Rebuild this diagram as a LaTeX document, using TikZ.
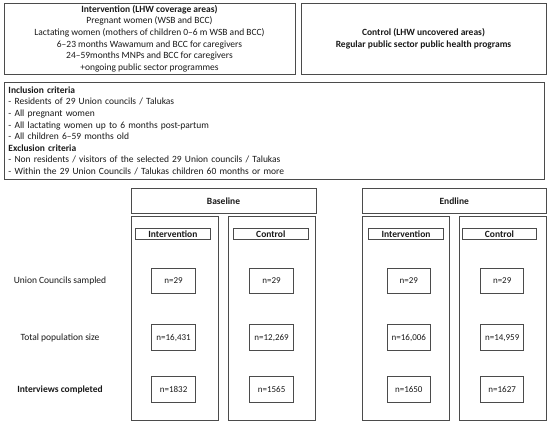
\documentclass[tikz,border=0pt]{standalone}
\usepackage{fontspec}
\setmainfont{Carlito}
\definecolor{linecol}{RGB}{75,75,75}
\definecolor{txtcol}{RGB}{25,25,25}
\tikzset{
  frame/.style={draw=linecol, line width=1pt, inner sep=0pt, text=txtcol,
    font=\fontsize{9.5}{11.6}\selectfont},
  wh/.style 2 args={minimum width=#1, minimum height=#2},
  hdr/.style={frame, wh={74.5}{11.3}, font=\fontsize{9.5}{11.6}\selectfont\bfseries},
  nbox/.style={frame, wh={43.5}{25.8}, font=\fontsize{9}{11}\selectfont},
  col/.style={frame, wh={87}{204}},
  rowlbl/.style={text=txtcol, inner sep=0pt, font=\fontsize{9.5}{11.6}\selectfont},
}
\begin{document}
\begin{tikzpicture}[x=1pt,y=-1pt]
\useasboundingbox (0,0) rectangle (550,426);
% top boxes
\node[frame, wh={291}{71}, align=center] (intv) at (149.5,38.5)
  {\textbf{Intervention (LHW coverage areas)}\\
   Pregnant women (WSB and BCC)\\
   Lactating women (mothers of children 0–6 m WSB and BCC)\\
   6–23 months Wawamum and BCC for caregivers\\
   24–59months MNPs and BCC for caregivers\\
   +ongoing public sector programmes};
\node[frame, wh={245}{71}, align=center, font=\fontsize{9.5}{11.6}\selectfont\bfseries] (ctrl) at (423.5,38.5)
  {Control (LHW uncovered areas)\\
   Regular public sector public health programs};
% criteria
\node[frame, wh={540}{97.5}, inner xsep=4.5pt, text width=531pt, align=left] (crit) at (274,130.75)
  {\textbf{Inclusion criteria}\\
   - Residents of 29 Union councils / Talukas\\
   - All pregnant women\\
   - All lactating women up to 6 months post-partum\\
   - All children 6–59 months old\\
   \textbf{Exclusion criteria}\\
   - Non residents / visitors of the selected 29 Union councils / Talukas\\
   - Within the 29 Union Councils / Talukas children 60 months or more};
% phase boxes
\node[frame, wh={185}{25}, font=\fontsize{9.5}{11.6}\selectfont\bfseries] (base) at (223.5,200.8) {Baseline};
\node[frame, wh={183.5}{25}, font=\fontsize{9.5}{11.6}\selectfont\bfseries] (endl) at (454.25,200.8) {Endline};
% columns
\node[col] (bic) at (174.75,318) {};
\node[col] (bcc) at (272.25,318) {};
\node[col] (eic) at (406,318) {};
\node[col] (ecc) at (502.5,318) {};
% headers
\node[hdr] (bih) at (172.9,233.7) {Intervention};
\node[hdr] (bch) at (270.8,233.7) {Control};
\node[hdr] (eih) at (406,233.7) {Intervention};
\node[hdr] (ech) at (499.5,233.7) {Control};
% row labels
\node[rowlbl] (l1) at (60,281) {Union Councils sampled};
\node[rowlbl] (l2) at (60,338) {Total population size};
\node[rowlbl, font=\fontsize{9.5}{11.6}\selectfont\bfseries] (l3) at (60,390) {Interviews completed};
% n boxes
\node[nbox] (b1) at (173.6,280.9) {n=29};
\node[nbox] (c1) at (271.6,280.9) {n=29};
\node[nbox] (e1) at (408.8,280.9) {n=29};
\node[nbox] (f1) at (502.2,280.9) {n=29};
\node[nbox] (b2) at (173.6,337.7) {n=16,431};
\node[nbox] (c2) at (271.6,337.7) {n=12,269};
\node[nbox] (e2) at (408.8,337.7) {n=16,006};
\node[nbox] (f2) at (502.2,337.7) {n=14,959};
\node[nbox] (b3) at (173.6,389.8) {n=1832};
\node[nbox] (c3) at (271.6,389.8) {n=1565};
\node[nbox] (e3) at (408.8,389.8) {n=1650};
\node[nbox] (f3) at (502.2,389.8) {n=1627};
\end{tikzpicture}
\end{document}
